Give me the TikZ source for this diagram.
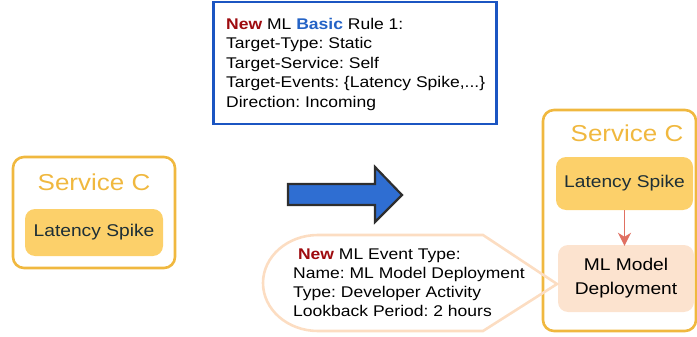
\documentclass[tikz,border=0pt]{standalone}
\usepackage{fontspec}
\setmainfont[FakeStretch=1.13]{Liberation Sans}
\usetikzlibrary{arrows.meta}
\definecolor{svcorange}{HTML}{F0B83F}
\definecolor{spikefill}{HTML}{FCD06A}
\definecolor{peachfill}{HTML}{FCE3CF}
\definecolor{peachline}{HTML}{FCDDC2}
\definecolor{ruleblue}{HTML}{1B55C2}
\definecolor{basicblue}{HTML}{2463C6}
\definecolor{newred}{HTML}{9E0B0F}
\definecolor{bigarrow}{HTML}{2F6ED2}
\definecolor{darktext}{HTML}{1E2F36}
\definecolor{linkred}{HTML}{E07062}
\frenchspacing
\begin{document}
\begin{tikzpicture}[x=1pt,y=-1pt,
  container/.style={draw=svcorange,line width=2.6pt,rounded corners=11pt,inner sep=0pt},
  svctitle/.style={text=svcorange,font=\fontsize{23}{26}\selectfont,inner sep=0pt},
  spike/.style={fill=spikefill,rounded corners=10pt,inner sep=0pt,text=darktext,
    font=\fontsize{17}{20}\selectfont},
  deploy/.style={fill=peachfill,rounded corners=10pt,inner sep=0pt,
    font=\fontsize{17}{24}\selectfont,align=center},
  infotext/.style={font=\fontsize{15.5}{19.5}\selectfont,align=left,inner sep=0pt,anchor=north west}
]
\useasboundingbox (0,0) rectangle (697,337);

% rule box at the top
\node[draw=ruleblue,line width=2.6pt,minimum width=283pt,minimum height=122pt,inner sep=0pt]
  (rule) at (355,63) {};
\node[infotext] (ruletext) at (226,18)
  {\textbf{\textcolor{newred}{New}} ML \textbf{\textcolor{basicblue}{Basic}} Rule 1:\\
   Target-Type: Static\\
   Target-Service: Self\\
   Target-Events: \{Latency Spike,...\}\\
   Direction: Incoming};

% service before the change
\node[container,minimum width=162pt,minimum height=111pt] (svcA) at (94,212.5) {};
\node[svctitle] (svcAtitle) at (94,182) {Service C};
\node[spike,minimum width=138pt,minimum height=47pt] (spikeA) at (94,232.5) {Latency Spike};

% transition arrow
\draw[draw=black!82,line width=2.2pt,fill=bigarrow,line join=miter]
  (288,184) -- (375,184) -- (375,167) -- (402,195) -- (375,222) -- (375,205) -- (288,205) -- cycle;

% service after the change
\node[container,minimum width=153pt,minimum height=221pt] (svcB) at (619.5,220.5) {};
\node[svctitle] (svcBtitle) at (627,133) {Service C};
\node[spike,minimum width=137pt,minimum height=53pt] (spikeB) at (624.5,183.5) {Latency Spike};
\node[deploy,minimum width=136pt,minimum height=67pt] (deployB) at (626,278.5) {ML Model\\Deployment};
\draw[-{Stealth[length=13pt,width=13pt,inset=4pt]},draw=linkred,fill=linkred,line width=1.6pt]
  (spikeB.south) -- ([yshift=-1pt]deployB.north -| spikeB.south);

% callout describing the new event type
\coordinate (tip) at (557,284);
\draw[draw=peachline,line width=2.6pt,line join=miter]
  (tip) -- (483,331) -- (318,331)
  .. controls (287.6,331) and (263,309.5) .. (263,283)
  .. controls (263,256.5) and (287.6,235) .. (318,235)
  -- (483,235) -- cycle;
\node[infotext,font=\fontsize{15.5}{19}\selectfont] (eventtext) at (293,249)
  {\ \textbf{\textcolor{newred}{New}} ML Event Type:\\
   Name: ML Model Deployment\\
   Type: Developer Activity\\
   Lookback Period: 2 hours};
\end{tikzpicture}
\end{document}
